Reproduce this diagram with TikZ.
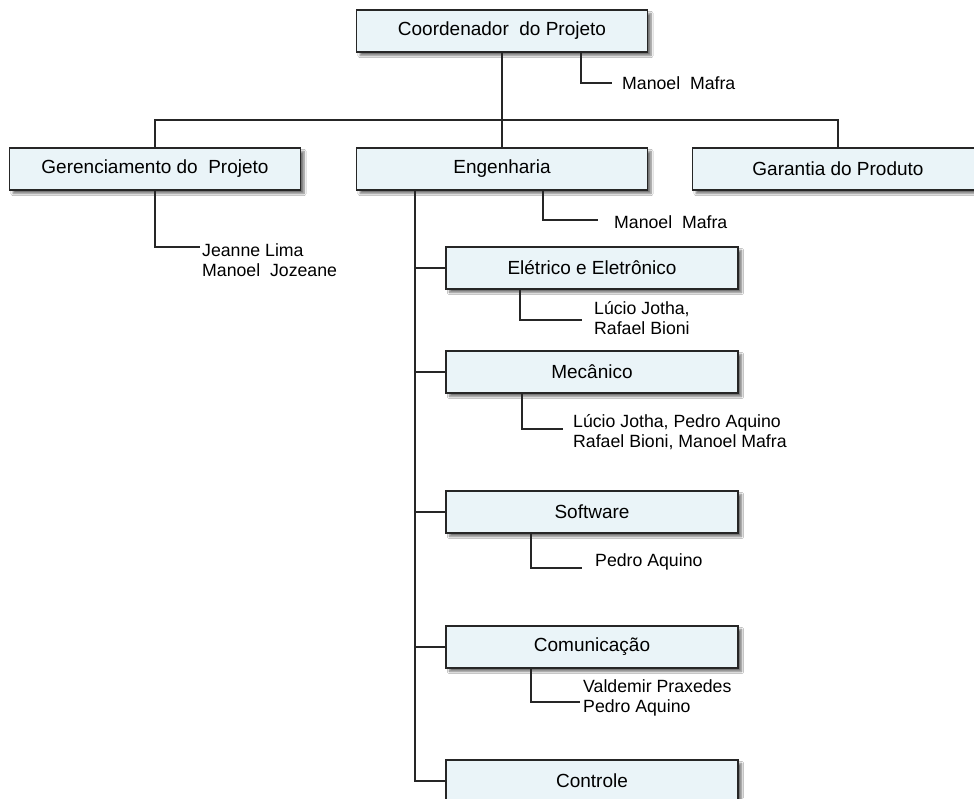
\documentclass[tikz,border=0pt]{standalone}
\usepackage{fontspec}
\setmainfont{Liberation Sans}
\usetikzlibrary{shadows,shadows.blur}
\definecolor{boxfill}{HTML}{EAF4F8}
\definecolor{edge}{HTML}{262626}
\tikzset{
  unit/.style={draw=edge, line width=1.3pt, fill=boxfill, minimum height=42pt,
    inner sep=0pt, font=\fontsize{19}{22}\selectfont,
    blur shadow={shadow xshift=3.5pt, shadow yshift=-3.5pt, shadow blur steps=6, shadow opacity=55}},
  top/.style={unit, minimum width=291pt},
  sub/.style={unit, minimum width=292pt},
  people/.style={anchor=west, inner sep=0pt, align=left, font=\fontsize{17.7}{20}\selectfont},
  link/.style={draw=edge, line width=1.5pt}
}
\begin{document}
\begin{tikzpicture}[x=1pt, y=-1pt]
  \useasboundingbox (0,0) rectangle (974,798);
  \fill[white] (0,0) rectangle (974,798);
  \clip (0,0) rectangle (974,798);

  % top level
  \node[top] (coord) at (502,31) {Coordenador\ \ do Projeto};
  \node[top] (ger) at (155,169) {Gerenciamento do\ \ Projeto};
  \node[top] (eng) at (502,169) {Engenharia};
  \node[top] (gar) at (838,169) {Garantia do Produto};

  % engineering areas
  \node[sub] (ele) at (592,268) {Elétrico e Eletrônico};
  \node[sub] (mec) at (592,372) {Mecânico};
  \node[sub] (sof) at (592,512) {Software};
  \node[sub] (com) at (592,647) {Comunicação};
  \node[sub] (ctl) at (592,781) {Controle};

  % people
  \node[people] (pcoord) at (622,83) {Manoel\ \ Mafra};
  \node[people] (pger) at (202,260) {Jeanne Lima\\Manoel\ \ Jozeane};
  \node[people] (peng) at (614,222) {Manoel\ \ Mafra};
  \node[people] (pele) at (594,318) {Lúcio Jotha,\\Rafael Bioni};
  \node[people] (pmec) at (573,432) {Lúcio Jotha, Pedro Aquino\\Rafael Bioni, Manoel Mafra};
  \node[people] (psof) at (595,562) {Pedro Aquino};
  \node[people] (pcom) at (583,698) {Valdemir Praxedes\\Pedro Aquino};

  % hierarchy
  \coordinate (bus) at (502,120);
  \draw[link] (coord.south) -- (bus);
  \draw[link] (ger.north) -- (ger.north |- bus) -- (gar.north |- bus) -- (gar.north);
  \draw[link] (bus) -- (eng.north);

  \coordinate (spine) at (415,190);
  \draw[link] (spine) |- (ctl.west);
  \foreach \n in {ele,mec,sof,com}
    \draw[link] (spine |- \n.west) -- (\n.west);

  % responsible people
  \draw[link] ([xshift=79pt]coord.south) |- ([xshift=-10pt]pcoord.west);
  \draw[link] (ger.south) |- ([xshift=-2pt,yshift=13pt]pger.west);
  \draw[link] ([xshift=41pt]eng.south) |- ([xshift=-16pt,yshift=2pt]peng.west);
  \draw[link] ([xshift=-72pt]ele.south) |- ([xshift=-12pt,yshift=-2pt]pele.west);
  \draw[link] ([xshift=-70pt]mec.south) |- ([xshift=-10pt,yshift=3pt]pmec.west);
  \draw[link] ([xshift=-61pt]sof.south) |- ([xshift=-13pt,yshift=-6pt]psof.west);
  \draw[link] ([xshift=-61pt]com.south) |- ([xshift=-3pt,yshift=-4pt]pcom.west);
\end{tikzpicture}
\end{document}
